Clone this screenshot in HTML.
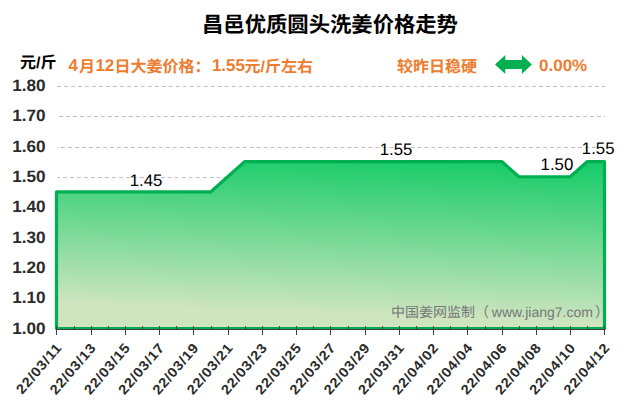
<!DOCTYPE html>
<html lang="zh-CN">
<head>
<meta charset="utf-8">
<title>昌邑优质圆头洗姜价格走势</title>
<style>
html,body{margin:0;padding:0;background:#fff}
body{width:640px;height:410px;overflow:hidden;font-family:"Liberation Sans","Noto Sans CJK SC",sans-serif}
svg{display:block}
svg text{font-family:"Liberation Sans","Noto Sans CJK SC",sans-serif;text-rendering:geometricPrecision}
.b{font-weight:bold}
</style>
</head>
<body>
<svg width="640" height="410" viewBox="0 0 640 410" role="img" aria-label="昌邑优质圆头洗姜价格走势">
<defs><linearGradient id="g" gradientUnits="userSpaceOnUse" x1="300.76" y1="141.5" x2="294.22" y2="312.6"><stop offset="0" stop-color="#09ca62"/><stop offset="1" stop-color="#cee5c0"/></linearGradient></defs>
<rect width="640" height="410" fill="#fff"/>
<g stroke="#bfbfbf" stroke-width="1" stroke-dasharray="4 2.986" fill="none">
<line x1="57" y1="298.5" x2="605" y2="298.5" stroke-dashoffset="0"/>
<line x1="57" y1="268.5" x2="605" y2="268.5" stroke-dashoffset="0"/>
<line x1="57" y1="238.5" x2="605" y2="238.5" stroke-dashoffset="0"/>
<line x1="57" y1="207.5" x2="605" y2="207.5" stroke-dashoffset="0"/>
<line x1="57" y1="177.5" x2="605" y2="177.5" stroke-dashoffset="1"/>
<line x1="57" y1="147.5" x2="605" y2="147.5" stroke-dashoffset="3"/>
<line x1="57" y1="116.5" x2="605" y2="116.5" stroke-dashoffset="5"/>
<line x1="57" y1="86.5" x2="605" y2="86.5" stroke-dashoffset="0"/>
</g>
<path d="M56.50 328.50L56.50 191.93L210.62 191.93L244.88 161.57L501.75 161.57L518.88 176.75L570.25 176.75L587.38 161.57L604.50 161.57L604.50 328.50Z" fill="url(#g)" stroke="#00b050" stroke-width="3.20" stroke-linejoin="round"/>
<g stroke="#404040" stroke-width="1" fill="none">
<line x1="56" y1="329.5" x2="605" y2="329.5"/>
<line x1="56.5" y1="326" x2="56.5" y2="335"/>
<line x1="74.5" y1="326" x2="74.5" y2="329.5"/>
<line x1="91.5" y1="326" x2="91.5" y2="335"/>
<line x1="108.5" y1="326" x2="108.5" y2="329.5"/>
<line x1="125.5" y1="326" x2="125.5" y2="335"/>
<line x1="142.5" y1="326" x2="142.5" y2="329.5"/>
<line x1="159.5" y1="326" x2="159.5" y2="335"/>
<line x1="176.5" y1="326" x2="176.5" y2="329.5"/>
<line x1="193.5" y1="326" x2="193.5" y2="335"/>
<line x1="211.5" y1="326" x2="211.5" y2="329.5"/>
<line x1="228.5" y1="326" x2="228.5" y2="335"/>
<line x1="245.5" y1="326" x2="245.5" y2="329.5"/>
<line x1="262.5" y1="326" x2="262.5" y2="335"/>
<line x1="279.5" y1="326" x2="279.5" y2="329.5"/>
<line x1="296.5" y1="326" x2="296.5" y2="335"/>
<line x1="313.5" y1="326" x2="313.5" y2="329.5"/>
<line x1="330.5" y1="326" x2="330.5" y2="335"/>
<line x1="348.5" y1="326" x2="348.5" y2="329.5"/>
<line x1="365.5" y1="326" x2="365.5" y2="335"/>
<line x1="382.5" y1="326" x2="382.5" y2="329.5"/>
<line x1="399.5" y1="326" x2="399.5" y2="335"/>
<line x1="416.5" y1="326" x2="416.5" y2="329.5"/>
<line x1="433.5" y1="326" x2="433.5" y2="335"/>
<line x1="450.5" y1="326" x2="450.5" y2="329.5"/>
<line x1="467.5" y1="326" x2="467.5" y2="335"/>
<line x1="485.5" y1="326" x2="485.5" y2="329.5"/>
<line x1="502.5" y1="326" x2="502.5" y2="335"/>
<line x1="519.5" y1="326" x2="519.5" y2="329.5"/>
<line x1="536.5" y1="326" x2="536.5" y2="335"/>
<line x1="553.5" y1="326" x2="553.5" y2="329.5"/>
<line x1="570.5" y1="326" x2="570.5" y2="335"/>
<line x1="587.5" y1="326" x2="587.5" y2="329.5"/>
<line x1="604.5" y1="326" x2="604.5" y2="335"/>
</g>
<g class="b" font-size="16.50" fill="#2b2b2b" text-anchor="end">
<text transform="translate(45.60 333.80) scale(1.040 1)">1.00</text>
<text transform="translate(45.60 302.80) scale(1.040 1)">1.10</text>
<text transform="translate(45.60 272.80) scale(1.040 1)">1.20</text>
<text transform="translate(45.60 242.80) scale(1.040 1)">1.30</text>
<text transform="translate(45.60 211.80) scale(1.040 1)">1.40</text>
<text transform="translate(45.60 181.80) scale(1.040 1)">1.50</text>
<text transform="translate(45.60 151.80) scale(1.040 1)">1.60</text>
<text transform="translate(45.60 120.80) scale(1.040 1)">1.70</text>
<text transform="translate(45.60 90.80) scale(1.040 1)">1.80</text>
</g>
<g class="b" font-size="13.70" fill="#2b2b2b" text-anchor="end" letter-spacing="0.55">
<text transform="translate(62.40 348.00) rotate(-49.5) scale(1.085 1)">22/03/11</text>
<text transform="translate(96.65 348.00) rotate(-49.5) scale(1.085 1)">22/03/13</text>
<text transform="translate(130.90 348.00) rotate(-49.5) scale(1.085 1)">22/03/15</text>
<text transform="translate(165.15 348.00) rotate(-49.5) scale(1.085 1)">22/03/17</text>
<text transform="translate(199.40 348.00) rotate(-49.5) scale(1.085 1)">22/03/19</text>
<text transform="translate(233.65 348.00) rotate(-49.5) scale(1.085 1)">22/03/21</text>
<text transform="translate(267.90 348.00) rotate(-49.5) scale(1.085 1)">22/03/23</text>
<text transform="translate(302.15 348.00) rotate(-49.5) scale(1.085 1)">22/03/25</text>
<text transform="translate(336.40 348.00) rotate(-49.5) scale(1.085 1)">22/03/27</text>
<text transform="translate(370.65 348.00) rotate(-49.5) scale(1.085 1)">22/03/29</text>
<text transform="translate(404.90 348.00) rotate(-49.5) scale(1.085 1)">22/03/31</text>
<text transform="translate(439.15 348.00) rotate(-49.5) scale(1.085 1)">22/04/02</text>
<text transform="translate(473.40 348.00) rotate(-49.5) scale(1.085 1)">22/04/04</text>
<text transform="translate(507.65 348.00) rotate(-49.5) scale(1.085 1)">22/04/06</text>
<text transform="translate(541.90 348.00) rotate(-49.5) scale(1.085 1)">22/04/08</text>
<text transform="translate(576.15 348.00) rotate(-49.5) scale(1.085 1)">22/04/10</text>
<text transform="translate(610.40 348.00) rotate(-49.5) scale(1.085 1)">22/04/12</text>
</g>
<g font-size="16.80" fill="#000" text-anchor="middle">
<text transform="translate(146.10 186.00) scale(1.000 1)">1.45</text>
<text transform="translate(396.10 155.00) scale(1.000 1)">1.55</text>
<text transform="translate(556.90 170.00) scale(1.000 1)">1.50</text>
<text transform="translate(598.20 153.90) scale(1.000 1)">1.55</text>
</g>
<g id="title"><text class="b" x="202" y="32" font-size="21.33" fill="#000">昌邑优质圆头洗姜价格走势</text></g>
<g id="unit"><text class="b" x="20" y="67.5" font-size="16" fill="#000">元/斤</text></g>
<g id="price" class="b" font-size="17" fill="#ed7d31">
<text x="68.5" y="70.9">4</text>
<text class="b" x="79" y="71.5" font-size="16">月</text>
<text x="95.4" y="70.9">12</text>
<text class="b" x="114.5" y="71.5" font-size="16">日大姜价格：</text>
<text x="211.9" y="70.9">1.55</text>
<text class="b" x="244.5" y="71.5" font-size="16">元/斤左右</text>
</g>
<g id="trend"><text class="b" x="397" y="71.5" font-size="16" fill="#ed7d31">较昨日稳硬</text>
<path fill="#00b050" d="M495 64.5L505.3 54.9V60H521.9V54.9L531.8 64.5L521.9 74.1V69H505.3V74.1Z"/>
<text class="b" font-size="16.6" fill="#ed7d31" transform="translate(539 71) scale(1.025 1)">0.00%</text></g>
<g id="watermark"><text x="391" y="316.7" font-size="14" fill="#777777">中国姜网监制（</text>
<text font-size="14" fill="#777777" x="491.8" y="316.7">www.jiang7.com</text>
<text x="595" y="316.7" font-size="14" fill="#777777">）</text></g>
</svg>
</body>
</html>
